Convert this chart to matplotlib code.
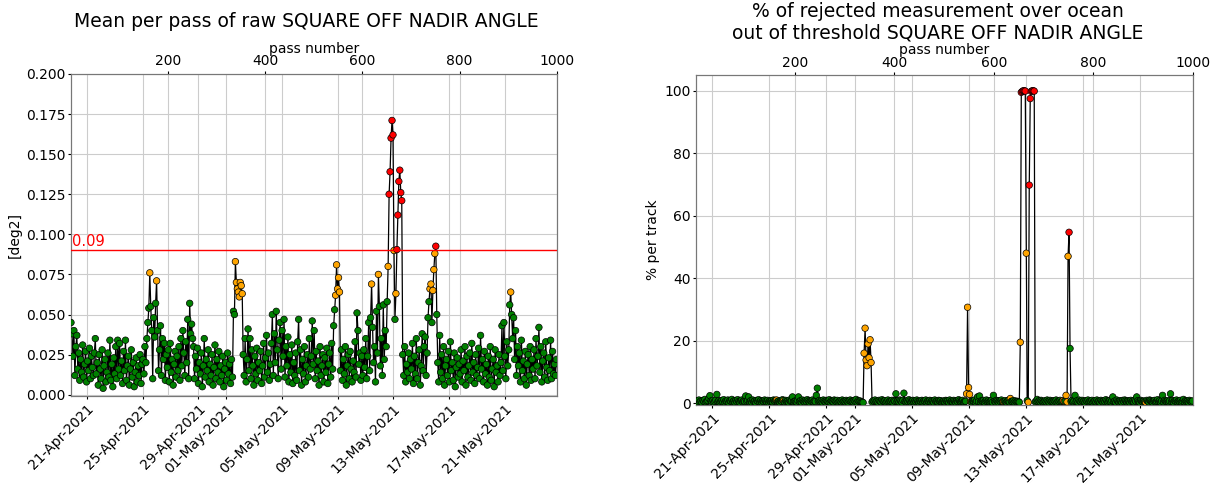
import numpy as np
import matplotlib
matplotlib.use('Agg')
import matplotlib.pyplot as plt
import matplotlib.dates as mdates
from datetime import datetime

# pass numbers (every second pass) and values
passes = np.arange(1, 1001, 2)

mean_sq = [
    0.045, 0.038, 0.024, 0.040, 0.012, 0.030, 0.037, 0.016, 0.026, 0.009, 0.022, 0.014, 0.031, 0.011, 0.019, 0.027, 0.008, 0.021, 0.015, 0.029, 0.010, 0.024, 0.017, 0.012, 0.026,
    0.035, 0.013, 0.020, 0.006, 0.025, 0.016, 0.010, 0.028, 0.004, 0.018, 0.022, 0.008, 0.014, 0.026, 0.011, 0.034, 0.009, 0.019, 0.005, 0.023, 0.013, 0.030, 0.010, 0.034, 0.016,
    0.032, 0.012, 0.021, 0.007, 0.027, 0.015, 0.034, 0.009, 0.018, 0.024, 0.006, 0.016, 0.028, 0.011, 0.020, 0.005, 0.014, 0.023, 0.008, 0.018, 0.012, 0.025, 0.007, 0.019, 0.022,
    0.013, 0.030, 0.020, 0.035, 0.045, 0.054, 0.076, 0.055, 0.040, 0.010, 0.048, 0.036, 0.057, 0.071, 0.040, 0.015, 0.028, 0.043, 0.012, 0.035, 0.022, 0.032, 0.009, 0.025, 0.017,
    0.028, 0.008, 0.032, 0.014, 0.022, 0.006, 0.019, 0.027, 0.011, 0.024, 0.015, 0.030, 0.009, 0.035, 0.018, 0.040, 0.026, 0.012, 0.033, 0.020, 0.047, 0.010, 0.057, 0.038, 0.044,
    0.035, 0.030, 0.010, 0.024, 0.016, 0.029, 0.007, 0.020, 0.013, 0.026, 0.005, 0.018, 0.035, 0.011, 0.022, 0.015, 0.028, 0.008, 0.019, 0.012, 0.025, 0.006, 0.017, 0.031, 0.010,
    0.022, 0.014, 0.027, 0.008, 0.018, 0.012, 0.024, 0.005, 0.016, 0.020, 0.009, 0.026, 0.013, 0.019, 0.007, 0.022, 0.011, 0.052, 0.050, 0.083, 0.070, 0.066, 0.064, 0.061, 0.070,
    0.068, 0.063, 0.025, 0.012, 0.035, 0.008, 0.022, 0.041, 0.015, 0.035, 0.010, 0.028, 0.018, 0.006, 0.024, 0.013, 0.029, 0.009, 0.020, 0.015, 0.027, 0.007, 0.018, 0.032, 0.011,
    0.023, 0.037, 0.014, 0.026, 0.009, 0.019, 0.032, 0.050, 0.012, 0.038, 0.020, 0.052, 0.028, 0.010, 0.034, 0.045, 0.016, 0.040, 0.024, 0.047, 0.011, 0.030, 0.018, 0.036, 0.008,
    0.025, 0.014, 0.031, 0.007, 0.020, 0.012, 0.026, 0.009, 0.033, 0.047, 0.015, 0.028, 0.006, 0.022, 0.013, 0.030, 0.008, 0.018, 0.025, 0.011, 0.035, 0.016, 0.024, 0.046, 0.019,
    0.040, 0.010, 0.027, 0.015, 0.021, 0.006, 0.030, 0.012, 0.018, 0.025, 0.008, 0.023, 0.014, 0.029, 0.007, 0.019, 0.026, 0.011, 0.032, 0.016, 0.043, 0.053, 0.062, 0.081, 0.066,
    0.073, 0.064, 0.015, 0.028, 0.009, 0.022, 0.013, 0.030, 0.006, 0.018, 0.025, 0.010, 0.027, 0.016, 0.008, 0.021, 0.014, 0.033, 0.011, 0.051, 0.040, 0.019, 0.026, 0.009, 0.024,
    0.012, 0.028, 0.017, 0.035, 0.010, 0.024, 0.045, 0.015, 0.048, 0.069, 0.042, 0.020, 0.030, 0.008, 0.052, 0.026, 0.075, 0.055, 0.018, 0.035, 0.012, 0.056, 0.022, 0.040, 0.030,
    0.058, 0.080, 0.125, 0.139, 0.160, 0.171, 0.162, 0.0899, 0.047, 0.063, 0.0905, 0.112, 0.133, 0.140, 0.126, 0.121, 0.025, 0.012, 0.030, 0.008, 0.019, 0.014, 0.026, 0.010, 0.022,
    0.016, 0.032, 0.007, 0.024, 0.013, 0.035, 0.010, 0.020, 0.028, 0.006, 0.018, 0.038, 0.015, 0.030, 0.036, 0.012, 0.026, 0.048, 0.058, 0.066, 0.069, 0.045, 0.065, 0.078, 0.088,
    0.0926, 0.050, 0.020, 0.008, 0.037, 0.014, 0.025, 0.010, 0.030, 0.006, 0.018, 0.022, 0.012, 0.027, 0.008, 0.033, 0.015, 0.020, 0.009, 0.026, 0.005, 0.017, 0.023, 0.011, 0.019,
    0.013, 0.028, 0.008, 0.021, 0.015, 0.030, 0.006, 0.024, 0.011, 0.018, 0.026, 0.009, 0.032, 0.014, 0.020, 0.007, 0.025, 0.012, 0.017, 0.029, 0.010, 0.037, 0.016, 0.022, 0.008,
    0.027, 0.013, 0.019, 0.006, 0.024, 0.011, 0.030, 0.009, 0.016, 0.022, 0.005, 0.028, 0.014, 0.018, 0.008, 0.025, 0.012, 0.020, 0.043, 0.015, 0.045, 0.024, 0.010, 0.033, 0.018,
    0.028, 0.056, 0.064, 0.050, 0.035, 0.048, 0.022, 0.040, 0.012, 0.030, 0.018, 0.026, 0.008, 0.034, 0.015, 0.021, 0.010, 0.027, 0.006, 0.019, 0.025, 0.012, 0.030, 0.009, 0.022,
    0.016, 0.028, 0.010, 0.035, 0.018, 0.024, 0.042, 0.014, 0.030, 0.008, 0.021, 0.026, 0.011, 0.033, 0.017, 0.009, 0.023, 0.015, 0.034, 0.010, 0.027, 0.013, 0.019, 0.012, 0.022,
]

pct_rejected = [
    0.5, 0.8, 0.3, 1.0, 0.4, 0.7, 0.2, 0.9, 0.5, 1.2, 0.3, 0.6, 0.8, 1.5, 2.4, 0.7, 0.4, 0.9, 0.3, 0.6, 1.0, 2.8, 0.5, 0.8, 0.3,
    0.6, 0.9, 0.4, 1.1, 0.3, 0.7, 0.5, 1.0, 0.2, 0.8, 0.6, 1.2, 0.4, 0.7, 0.3, 0.9, 0.5, 1.1, 0.6, 0.3, 0.8, 1.0, 0.4, 0.7, 0.5,
    2.3, 0.6, 0.9, 2.0, 0.4, 0.8, 0.3, 1.0, 0.5, 0.7, 0.2, 0.9, 0.6, 1.1, 0.4, 0.8, 0.3, 0.7, 0.5, 1.0, 0.6, 0.4, 0.9, 0.3, 0.7,
    0.5, 0.8, 0.4, 1.0, 0.6, 0.9, 1.0, 0.5, 0.7, 0.3, 0.8, 0.6, 1.1, 0.8, 0.4, 0.9, 0.5, 0.7, 0.3, 1.0, 0.6, 0.8, 2.0, 0.4, 0.6,
    0.7, 0.4, 0.9, 2.0, 0.5, 0.8, 0.3, 1.0, 0.6, 0.4, 0.9, 0.5, 1.1, 0.7, 0.3, 0.8, 0.6, 1.0, 0.4, 0.7, 0.5, 2.5, 4.8, 0.6, 0.9,
    0.5, 0.8, 0.3, 1.0, 0.6, 0.4, 0.9, 0.7, 0.5, 1.1, 0.3, 0.8, 0.6, 0.4, 1.0, 0.7, 0.5, 0.9, 0.3, 0.6, 0.8, 0.4, 1.0, 0.5, 0.7,
    0.4, 0.9, 0.6, 0.3, 0.8, 1.0, 0.5, 0.7, 0.4, 0.9, 0.6, 1.2, 0.3, 0.8, 0.5, 0.7, 0.4, 0.3, 0.2, 16.0, 24.0, 13.8, 12.0, 19.0, 14.5,
    20.3, 13.0, 0.4, 0.8, 0.6, 1.0, 0.5, 0.7, 0.3, 0.9, 0.6, 0.4, 1.1, 0.7, 0.5, 0.8, 0.3, 0.6, 1.0, 0.4, 0.7, 0.5, 0.9, 0.3, 0.8,
    0.6, 3.0, 0.5, 0.8, 0.4, 1.0, 0.7, 0.3, 0.9, 3.2, 0.6, 0.4, 0.8, 0.5, 1.1, 0.7, 0.3, 0.6, 0.9, 0.4, 0.8, 0.5, 1.0, 0.6, 0.3,
    0.7, 0.5, 0.9, 0.4, 0.8, 0.6, 1.0, 0.3, 0.7, 0.5, 0.9, 0.4, 0.8, 0.6, 0.3, 1.0, 0.5, 0.7, 0.4, 0.9, 0.6, 0.8, 0.3, 0.5, 0.7,
    0.4, 0.9, 0.6, 0.8, 0.3, 1.0, 0.5, 0.7, 0.4, 0.9, 0.6, 0.3, 0.8, 0.5, 1.1, 0.7, 0.4, 0.6, 0.9, 0.3, 0.5, 0.6, 3.0, 30.7, 5.0,
    2.8, 0.5, 0.4, 0.8, 0.6, 1.0, 0.3, 0.7, 2.0, 0.5, 2.3, 0.4, 0.8, 0.6, 0.9, 0.3, 0.7, 1.0, 0.5, 0.8, 0.4, 0.6, 0.9, 0.3, 2.5,
    0.6, 0.4, 0.9, 0.7, 0.3, 0.8, 0.5, 1.0, 0.4, 0.5, 0.6, 0.8, 0.3, 0.7, 0.9, 0.4, 1.5, 0.6, 0.5, 0.8, 0.3, 0.7, 0.4, 0.6, 0.5,
    0.3, 19.5, 99.5, 99.8, 100.0, 100.0, 99.9, 48.0, 0.8, 0.3, 69.8, 97.5, 99.8, 100.0, 100.0, 99.9, 0.4, 0.7, 1.2, 0.5, 0.8, 0.4, 0.9, 0.6, 0.3,
    0.5, 0.8, 0.4, 1.0, 0.6, 0.3, 0.9, 0.5, 0.7, 0.4, 0.8, 0.6, 1.0, 0.3, 0.7, 0.5, 0.9, 0.4, 0.6, 0.8, 0.5, 0.6, 2.5, 0.4, 47.0,
    54.7, 17.5, 0.6, 0.9, 0.4, 0.7, 2.5, 0.5, 0.8, 0.3, 1.0, 0.6, 0.4, 0.9, 0.5, 0.7, 0.3, 0.8, 0.6, 1.0, 0.4, 0.7, 0.5, 0.9, 0.3,
    0.6, 0.8, 0.4, 1.0, 0.5, 0.7, 0.3, 0.9, 0.6, 0.4, 0.8, 0.5, 1.1, 0.7, 0.3, 0.6, 0.9, 0.4, 0.8, 2.0, 0.5, 0.7, 0.3, 1.0, 0.6,
    0.4, 0.8, 0.6, 0.3, 0.9, 0.5, 1.0, 0.7, 0.4, 0.8, 0.6, 0.3, 0.9, 0.5, 0.7, 0.4, 1.0, 0.6, 2.0, 0.8, 0.5, 0.3, 0.9, 0.6, 0.4,
    0.7, 0.5, 0.3, 0.9, 0.6, 0.4, 1.0, 0.8, 0.5, 0.3, 0.7, 0.9, 0.4, 0.6, 1.1, 0.5, 0.8, 0.3, 0.7, 2.5, 0.4, 0.9, 0.6, 0.5, 0.8,
    0.4, 0.7, 3.0, 0.5, 0.9, 0.3, 0.8, 0.6, 1.0, 0.4, 0.7, 0.5, 0.9, 0.3, 0.6, 1.2, 0.4, 0.8, 0.5, 0.7, 0.3, 0.9, 0.6, 0.4, 0.7,
]

threshold = 0.09
warning = 0.06
date_start = datetime(2021, 4, 19, 20, 30)
date_end = datetime(2021, 5, 24, 17, 45)

mean_sq = np.array(mean_sq)
pct_rejected = np.array(pct_rejected)
# point colour from the mean value of each pass (shared by both panels)
colors = np.where(mean_sq > threshold, 'red', np.where(mean_sq >= warning, 'orange', 'green'))

plt.rcParams['font.family'] = ['DejaVu Sans']
plt.rcParams['font.size'] = 10

fig = plt.figure(figsize=(12.24, 4.88), dpi=100)

def make_panel(rect, yvals, ylim, ylabel):
    ax = fig.add_axes(rect)
    ax.set_xlim(date_start, date_end)
    ax.xaxis.set_major_locator(mdates.DayLocator(bymonthday=[1, 5, 9, 13, 17, 21, 25, 29]))
    ax.xaxis.set_major_formatter(mdates.DateFormatter('%d-%b-%Y'))
    for lbl in ax.get_xticklabels():
        lbl.set_rotation(45)
        lbl.set_ha('right')
        lbl.set_rotation_mode('anchor')
    ax.grid(True, color='#cccccc', linewidth=0.8)
    ax.set_ylim(*ylim)
    ax.set_ylabel(ylabel, fontsize=10, labelpad=3)
    ax.tick_params(labelsize=10, length=2.5, pad=1.5)

    ax2 = ax.twiny()
    ax2.set_xlim(1, 1000)
    ax2.set_xlabel('pass number', fontsize=10, labelpad=1)
    ax2.tick_params(labelsize=10, length=2.5, pad=1.5)
    ax2.grid(True, axis='x', color='#cccccc', linewidth=0.8)
    ax2.plot(passes, yvals, '-', color='black', linewidth=0.9, zorder=2)
    ax2.scatter(passes, yvals, c=colors, s=22, edgecolors='black', linewidths=0.5, zorder=3)
    for a in (ax, ax2):
        for sp in a.spines.values():
            sp.set_color('#777777')
    return ax, ax2

axL, axL2 = make_panel([0.058, 0.1885, 0.397, 0.660], mean_sq, (-0.0008, 0.2), '[deg2]')
axL.yaxis.set_major_locator(matplotlib.ticker.MultipleLocator(0.025))
axL.yaxis.set_major_formatter(matplotlib.ticker.FormatStrFormatter('%.3f'))
axL2.axhline(threshold, color='red', linewidth=1.0, zorder=4)
axL2.text(3, threshold + 0.001, f'{threshold:g}', color='red', fontsize=10.5, va='bottom', ha='left')

axR, axR2 = make_panel([0.5686, 0.170, 0.406, 0.676], pct_rejected, (-0.6, 105), '% per track')

fig.text(0.2504, 0.955, 'Mean per pass of raw SQUARE OFF NADIR ANGLE', ha='center', va='center', fontsize=13.5)
fig.text(0.766, 0.955, '% of rejected measurement over ocean\nout of threshold SQUARE OFF NADIR ANGLE',
         ha='center', va='center', fontsize=13.5, linespacing=1.15)

fig.savefig('out.png', dpi=100, facecolor='white')
